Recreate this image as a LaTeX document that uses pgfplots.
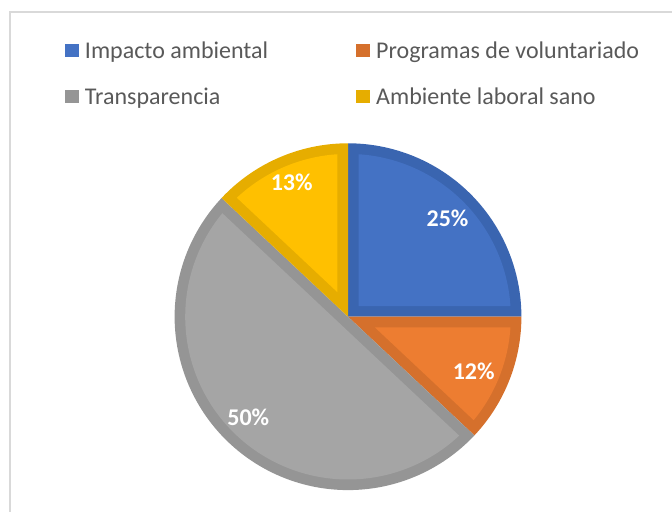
\documentclass[border=0pt]{standalone}
\usepackage{pgfplots}
\usepackage{pgfplotstable}
\pgfplotsset{compat=1.18}
\usepackage{fontspec}
\setmainfont{Carlito}

\definecolor{bluelight}{HTML}{4472C4}
\definecolor{bluedark}{HTML}{3A65B0}
\definecolor{orangelight}{HTML}{ED7D31}
\definecolor{orangedark}{HTML}{D5702C}
\definecolor{graylight}{HTML}{A5A5A5}
\definecolor{graydark}{HTML}{959595}
\definecolor{yellowlight}{HTML}{FFC000}
\definecolor{yellowdark}{HTML}{E6AD00}
\definecolor{framegray}{HTML}{D9D9D9}
\definecolor{legtext}{HTML}{595959}

\pgfplotstableread{
label value
Impacto 25
Programas 12
Transparencia 50
Ambiente 13
}\piedata

% geometry (pixel units of the reference, y upwards)
\def\cx{348}
\def\cy{195.3}
\def\R{173.4}
\def\d{10.6}

\newcommand{\pieslice}[4]{% #1 start angle (larger), #2 end angle (smaller)
  \pgfmathsetmacro\sspan{#1-(#2)}%
  \pgfmathsetmacro\bis{(#1+(#2))/2}%
  \pgfmathsetmacro\voff{\d/sin(\sspan/2)}%
  \pgfmathsetmacro\vx{\cx+\voff*cos(\bis)}%
  \pgfmathsetmacro\vy{\cy+\voff*sin(\bis)}%
  \pgfmathsetmacro\ri{\R-\d}%
  \pgfmathsetmacro\del{asin(\d/\ri)}%
  \pgfmathsetmacro\ia{#2+\del}%
  \pgfmathsetmacro\ib{#1-\del}%
  \edef\doslice{%
    \noexpand\addplot[fill=#3, draw=none, domain=#2:#1, samples=120, forget plot]
      ({\cx+\R*cos(x)},{\cy+\R*sin(x)}) -- (axis cs:\cx,\cy) -- cycle;
    \noexpand\addplot[fill=#4, draw=none, domain=\ia:\ib, samples=120, forget plot]
      ({\cx+\ri*cos(x)},{\cy+\ri*sin(x)}) -- (axis cs:\vx,\vy) -- cycle;
  }\doslice
}

\begin{document}
\begin{tikzpicture}
\pgfplotstablegetelem{0}{value}\of\piedata \pgfmathsetmacro\vA{\pgfplotsretval}
\pgfplotstablegetelem{1}{value}\of\piedata \pgfmathsetmacro\vB{\pgfplotsretval}
\pgfplotstablegetelem{2}{value}\of\piedata \pgfmathsetmacro\vC{\pgfplotsretval}
\pgfplotstablegetelem{3}{value}\of\piedata \pgfmathsetmacro\vD{\pgfplotsretval}
\pgfmathsetmacro\aA{90}
\pgfmathsetmacro\aB{\aA-3.6*\vA}
\pgfmathsetmacro\aC{\aB-3.6*\vB}
\pgfmathsetmacro\aD{\aC-3.6*\vC}
\pgfmathsetmacro\aE{\aD-3.6*\vD}
\begin{axis}[
  name=ax,
  width=336pt, height=256pt, scale only axis,
  xmin=0, xmax=672, ymin=0, ymax=512,
  hide axis, clip=true, clip bounding box=upper bound,
  legend columns=2,
  legend image code/.code={\fill[#1] (0pt,-3.3pt) rectangle (7pt,3.3pt);},
  legend cell align=left,
  legend style={
    at={(0.0967,0.9162)}, anchor=north west,
    draw=none, fill=none, inner sep=0pt, outer sep=0pt,
    font=\fontsize{12}{14}\selectfont, text=legtext,
    row sep=15.2pt,
    nodes={inner sep=0pt, outer sep=0pt, text height=7.8pt, text depth=0pt},
    /tikz/every odd column/.append style={column sep=3pt},
    /tikz/every even column/.append style={column sep=44pt},
  },
]
\draw[framegray, line width=0.6pt] (axis cs:10,500) rectangle (axis cs:720,-30);

\pieslice{\aA}{\aB}{bluedark}{bluelight}
\pieslice{\aB}{\aC}{orangedark}{orangelight}
\pieslice{\aC}{\aD}{graydark}{graylight}
\pieslice{\aD}{\aE}{yellowdark}{yellowlight}

\addlegendimage{fill=bluelight, draw=none}
\addlegendentry{Impacto ambiental}
\addlegendimage{fill=orangedark, draw=none}
\addlegendentry{Programas de voluntariado}
\addlegendimage{fill=graydark, draw=none}
\addlegendentry{Transparencia}
\addlegendimage{fill=yellowdark, draw=none}
\addlegendentry{Ambiente laboral sano}

\node[text=white, font=\bfseries\fontsize{12}{14}\selectfont, inner sep=0pt] at (axis cs:447.5,293.5) {25\%};
\node[text=white, font=\bfseries\fontsize{12}{14}\selectfont, inner sep=0pt] at (axis cs:473.7,141) {12\%};
\node[text=white, font=\bfseries\fontsize{12}{14}\selectfont, inner sep=0pt] at (axis cs:248.3,94.5) {50\%};
\node[text=white, font=\bfseries\fontsize{12}{14}\selectfont, inner sep=0pt] at (axis cs:291.7,329.2) {13\%};
\end{axis}
\pgfresetboundingbox
\path (ax.south west) rectangle (ax.north east);
\end{tikzpicture}
\end{document}
